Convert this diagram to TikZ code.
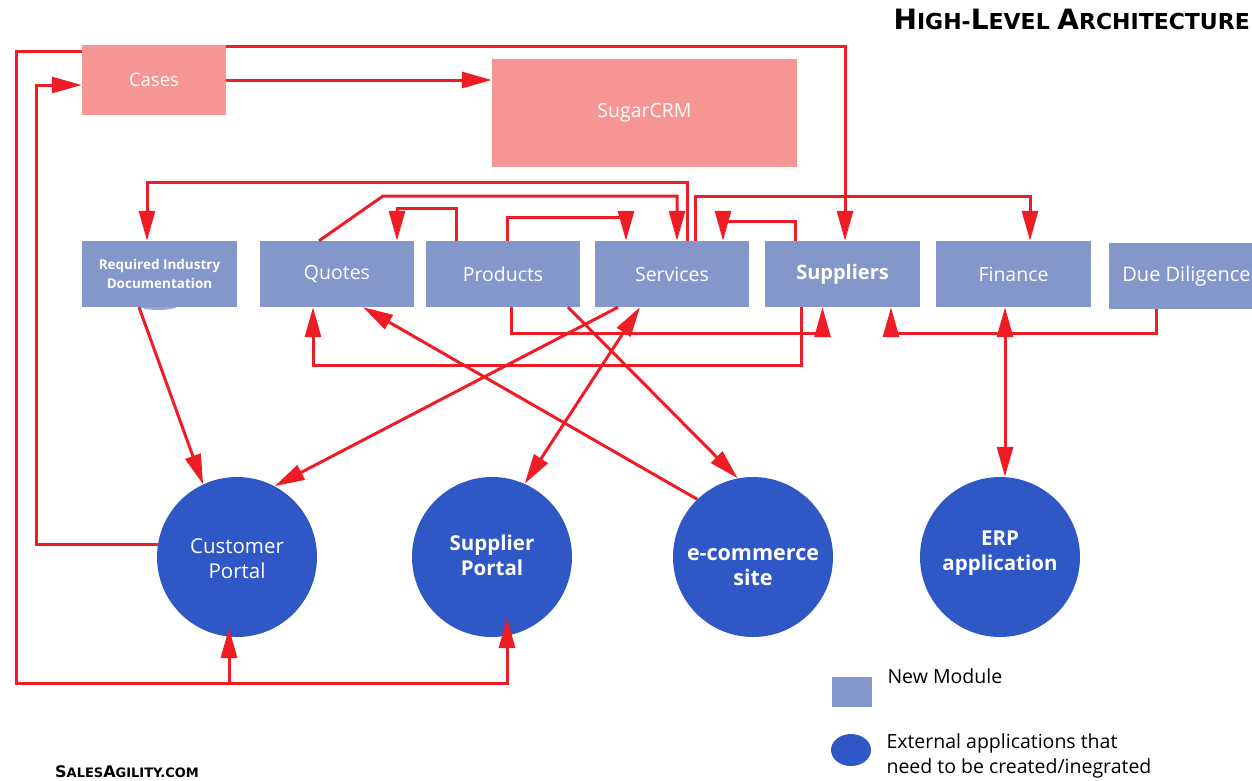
\documentclass[tikz,border=0pt]{standalone}
\usepackage{fontspec}
\setmainfont{Open Sans}
\newfontfamily\capsfont{DejaVu Sans}
\usetikzlibrary{arrows.meta,shapes.geometric}
\definecolor{salmonc}{HTML}{F59594}
\definecolor{modc}{HTML}{8497CA}
\definecolor{extc}{HTML}{2F57C6}
\definecolor{redc}{HTML}{EE1C25}
\newcommand{\tsc}[2]{{\fontsize{#1}{#1}\selectfont #2}}
\begin{document}
\begin{tikzpicture}[x=1pt,y=-1pt,
  modbox/.style={fill=modc, text=white, minimum width=155pt, minimum height=66pt, inner sep=0pt, font=\fontsize{19.5}{22}\selectfont},
  crmbox/.style={fill=salmonc, text=white, inner sep=0pt},
  ext/.style={circle, fill=extc, minimum size=160pt, inner sep=0pt},
  exttext/.style={text=white, align=center, font=\fontsize{20.5}{25}\selectfont},
  extbold/.style={text=white, align=center, font=\bfseries\fontsize{20.5}{25}\selectfont},
  link/.style={draw=redc, line width=3pt, line join=miter},
  arr/.style={link, -{Triangle[length=30pt,width=16pt]}},
  darr/.style={link, {Triangle[length=30pt,width=16pt]}-{Triangle[length=30pt,width=16pt]}},
  legtext/.style={anchor=west, align=left, text=black, font=\fontsize{19.5}{25}\selectfont}
]
\useasboundingbox (0,0) rectangle (1252,780);

% title and footer
\node[anchor=base east, inner sep=0pt, font=\capsfont\bfseries] (title) at (1250,29)
  {\tsc{28}{H}\tsc{22}{IGH-}\tsc{28}{L}\tsc{22}{EVEL }\tsc{28}{A}\tsc{22}{RCHITECTURE}};
\node[anchor=base west, inner sep=0pt, font=\capsfont\bfseries] (footer) at (55,777)
  {\tsc{16}{S}\tsc{13}{ALES}\tsc{16}{A}\tsc{13}{GILITY.COM}};

% CRM boxes
\node[crmbox, minimum width=144pt, minimum height=70pt, font=\fontsize{18.5}{22}\selectfont] (cases) at (154,80) {Cases};
\node[crmbox, minimum width=305pt, minimum height=108pt, font=\fontsize{19.5}{22}\selectfont] (sugar) at (644.5,113) {SugarCRM};

% modules
\fill[modc!85!white] (158,304) ellipse [x radius=22pt, y radius=6pt];
\node[modbox, align=center, font=\bfseries\fontsize{13.5}{19}\selectfont] (rid) at (159.5,274) {Required Industry\\Documentation};
\node[modbox, minimum width=154pt] (quotes) at (337,274) {Quotes};
\node[modbox, minimum width=154pt] (products) at (503,274) {Products};
\node[modbox, minimum width=154pt] (services) at (672,274) {Services};
\node[modbox, font=\bfseries\fontsize{20}{22}\selectfont] (suppliers) at (842.5,274) {Suppliers};
\node[modbox] (finance) at (1013.5,274) {Finance};
\node[modbox, font=\fontsize{20}{22}\selectfont] (dued) at (1186.5,276) {Due Diligence};

% external applications
\node[ext] (cportal) at (237,557) {};
\node[exttext] (cportaltxt) at (237,559) {Customer\\Portal};
\node[ext] (sportal) at (492,557) {};
\node[extbold] (sportaltxt) at (492,555) {Supplier\\Portal};
\node[ext] (ecom) at (753,557) {};
\node[extbold, font=\bfseries\fontsize{21.5}{25}\selectfont] (ecomtxt) at (753,567) {e-commerce\\site};
\node[ext] (erp) at (1000,557) {};
\node[extbold] (erptxt) at (1000,553) {ERP\\application};

% legend
\node[fill=modc, minimum width=40pt, minimum height=30pt, inner sep=0pt] (legbox) at (852,692) {};
\node[legtext] (legboxtxt) at (884,676) {New Module};
\node[ellipse, fill=extc, minimum width=40pt, minimum height=32pt, inner sep=0pt] (legcirc) at (851,750) {};
\node[legtext] (legcirctxt) at (883,756) {External applications that\\need to be created/inegrated};

% helper coordinates
\coordinate (x16) at (16,0);
\coordinate (x36) at (36,0);
\coordinate (y182) at (0,182);
\coordinate (y196) at (0,196);
\coordinate (y208) at (0,208);
\coordinate (y217) at (0,217);
\coordinate (y221) at (0,221);
\coordinate (y333) at (0,333);
\coordinate (y365) at (0,365);
\coordinate (y683) at (0,683);
\coordinate (qb) at (383,196);
\coordinate (cptip) at (229,628);
\coordinate (sptip) at (507,618);

\coordinate (c2) at ([yshift=-7pt]cases.north west);
\coordinate (c3) at ([yshift=-5pt]cases.west);
\coordinate (s1) at ([xshift=15pt]services.north);
\coordinate (r1) at ([xshift=-12.5pt]rid.north);
\coordinate (q1) at ([xshift=-18pt]quotes.north);
\coordinate (s2) at ([xshift=5pt]services.north);
\coordinate (p2) at ([xshift=-47pt]products.north);
\coordinate (q2) at ([xshift=60pt]quotes.north);
\coordinate (p3) at ([xshift=4pt]products.north);
\coordinate (s3) at ([xshift=-46pt]services.north);
\coordinate (s4) at ([xshift=23pt]services.north);
\coordinate (f1) at ([xshift=16.5pt]finance.north);
\coordinate (u1) at ([xshift=-47.5pt]suppliers.north);
\coordinate (s5) at ([xshift=51pt]services.north);
\coordinate (p4) at ([xshift=8pt]products.south);
\coordinate (u2) at ([xshift=-20pt]suppliers.south);
\coordinate (u3) at ([xshift=-41pt]suppliers.south);
\coordinate (q3) at ([xshift=-24pt]quotes.south);
\coordinate (d1) at ([xshift=-30.5pt]finance.south -| dued.south);
\coordinate (d1) at ([xshift=-30.5pt]dued.south);
\coordinate (u4) at ([xshift=48.5pt]suppliers.south);

% connectors
\draw[arr] (cases.east) -- (cases.east -| sugar.west);
\draw[arr] ([yshift=-2pt]cases.north east) -| ([xshift=2.5pt]suppliers.north);
\draw[arr] (c2) -- (c2 -| x16) -- (x16 |- y683) -- (sptip |- y683) -- (sptip);
\draw[arr] (cptip |- y683) -- (cptip);
\draw[arr] (cportal.171) -- (cportal.171 -| x36) -- (x36 |- c3) -- (c3);

\draw[arr] (s1) -- (s1 |- y182) -- (r1 |- y182) -- (r1);
\draw[arr] (q1) -- (qb) -- (s2 |- qb) -- (s2);
\draw[arr] (p2) -- (p2 |- y208) -- (q2 |- y208) -- (q2);
\draw[arr] (p3) -- (p3 |- y217) -- (s3 |- y217) -- (s3);
\draw[arr] (s4) -- (s4 |- y196) -- (f1 |- y196) -- (f1);
\draw[arr] (u1) -- (u1 |- y221) -- (s5 |- y221) -- (s5);
\draw[arr] (p4) -- (p4 |- y333) -- (u2 |- y333) -- (u2);
\draw[arr] (u3) -- (u3 |- y365) -- (q3 |- y365) -- (q3);
\draw[arr] (d1) -- (d1 |- y333) -- (u4 |- y333) -- (u4);

\draw[darr] ([xshift=-8.5pt]finance.south) -- ([xshift=5pt]erp.north);
\draw[arr] ([xshift=-54pt]services.south) -- (cportal.62);
\draw[darr] ([xshift=-32pt]services.south) -- (sportal.66);
\draw[arr] (ecom.134) -- ([xshift=26pt]quotes.south);
\draw[arr] ([xshift=65pt]products.south) -- (ecom.101);
\draw[arr] ([xshift=-20.5pt]rid.south) -- (cportal.115);
\end{tikzpicture}
\end{document}
